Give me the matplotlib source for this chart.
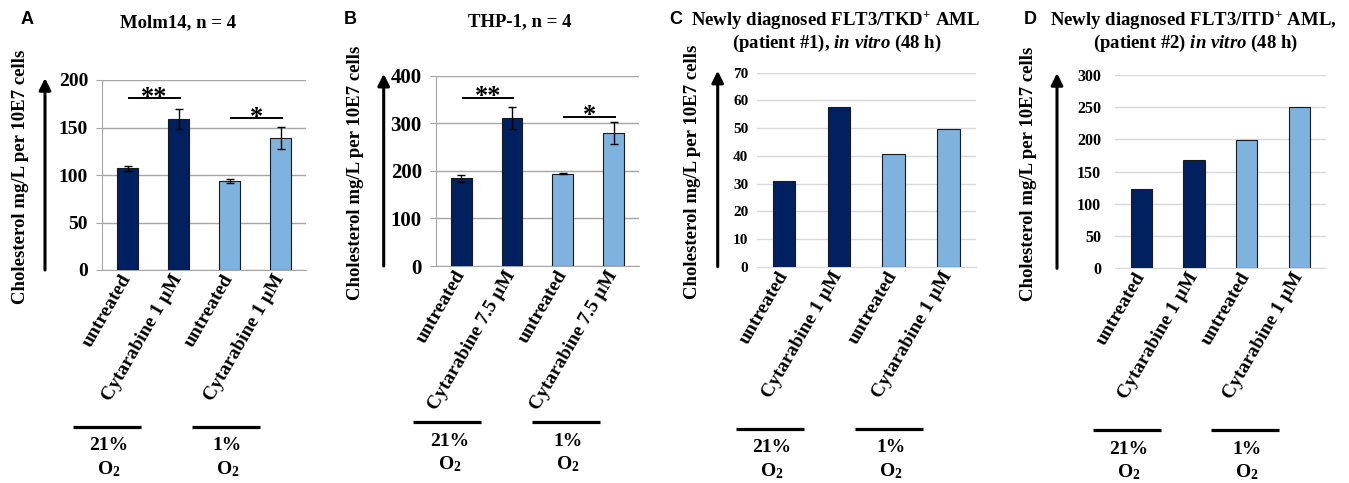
import matplotlib
matplotlib.use("Agg")
import matplotlib.pyplot as plt
from matplotlib.transforms import ScaledTranslation

plt.rcParams['font.family'] = ['Liberation Serif', 'DejaVu Serif']
plt.rcParams['font.weight'] = 'bold'
plt.rcParams['mathtext.fontset'] = 'custom'
plt.rcParams['mathtext.rm'] = 'Liberation Serif:bold'
plt.rcParams['mathtext.it'] = 'Liberation Serif:bold:italic'
plt.rcParams['mathtext.bf'] = 'Liberation Serif:bold'
plt.rcParams['mathtext.default'] = 'rm'

DARK = '#002060'
LIGHT = '#7DB3DE'

# данные по панелям
labels_a = ['untreated', 'Cytarabine 1 µM', 'untreated', 'Cytarabine 1 µM']
labels_b = ['untreated', 'Cytarabine 7.5 µM', 'untreated', 'Cytarabine 7.5 µM']
labels_c = labels_a
labels_d = labels_a

vals_a = [107, 159, 94, 139]
err_a = [3, 11, 2, 12]
vals_b = [184, 312, 194, 279]
err_b = [8, 23, 1, 23]
vals_c = [31.0, 57.5, 40.8, 49.8]
vals_d = [123, 168, 199, 251]

sig_a = [(0, 1, 181, '**'), (2, 3, 160, '*')]
sig_b = [(0, 1, 354, '**'), (2, 3, 314, '*')]

groups = ['21%', '1%']
bar_colors = [DARK, DARK, LIGHT, LIGHT]
ylabel = 'Cholesterol mg/L per 10E7 cells'

W, H = 1349, 483
fig = plt.figure(figsize=(W / 100, H / 100), dpi=100)


def px_axes(left, right, top, bottom):
    return fig.add_axes([left / W, 1 - bottom / H, (right - left) / W, (bottom - top) / H])


# box = (left, right, top, bottom) in pixels; остальные смещения тоже в пикселях
panels = [
    dict(box=(102, 306, 80, 270), vals=vals_a, err=err_a, ylim=200, step=50, labels=labels_a,
         sig=sig_a, tsize=14, grid='#A6A6A6', spine=True, arrow=-57, ylab=-73, line=157,
         gx=(5, 123.5), pad=6),
    dict(box=(435.7, 639, 75.7, 266), vals=vals_b, err=err_b, ylim=400, step=100, labels=labels_b,
         sig=sig_b, tsize=15, grid='#A6A6A6', spine=True, arrow=-52, ylab=-72, line=156,
         gx=(11.7, 130.3), pad=6),
    dict(box=(756.7, 975.7, 72.7, 266.7), vals=vals_c, err=None, ylim=70, step=10, labels=labels_c,
         sig=[], tsize=11, grid='#D9D9D9', spine=False, arrow=-39, ylab=-56, line=162,
         gx=(13.3, 132.3), pad=6),
    dict(box=(1115, 1325.7, 75, 268.3), vals=vals_d, err=None, ylim=300, step=50, labels=labels_d,
         sig=[], tsize=11.5, grid='#D9D9D9', spine=False, arrow=-58, ylab=-78, line=162,
         gx=(11.7, 130), pad=10),
]

for p in panels:
    l, r, t, b = p['box']
    ax = px_axes(l, r, t, b)
    n = len(p['vals'])
    xs = list(range(n))
    ax.bar(xs, p['vals'], width=0.41, color=bar_colors, edgecolor='#1a1a1a', linewidth=0.8, zorder=3)
    if p['err'] is not None:
        ax.errorbar(xs, p['vals'], yerr=p['err'], fmt='none', ecolor='black',
                    elinewidth=1, capsize=3, capthick=1, zorder=4)
    ax.set_xlim(-0.5, n - 0.5)
    ax.set_ylim(0, p['ylim'])
    ax.set_yticks(range(0, p['ylim'] + 1, p['step']))
    ax.yaxis.grid(True, color=p['grid'], linewidth=1)
    ax.set_axisbelow(True)
    for s in ['top', 'right']:
        ax.spines[s].set_visible(False)
    ax.spines['bottom'].set_color(p['grid'])
    ax.spines['left'].set_color(p['grid'])
    ax.spines['left'].set_visible(p['spine'])
    ax.tick_params(axis='y', length=4 if p['spine'] else 0, color=p['grid'],
                   labelsize=p['tsize'], pad=p['pad'])
    ax.tick_params(axis='x', length=0, pad=4)
    ax.set_xticks(xs)
    ax.set_xticklabels(p['labels'], rotation=60, ha='right', va='center',
                       rotation_mode='anchor', fontsize=14)
    for lbl in ax.get_yticklabels() + ax.get_xticklabels():
        lbl.set_fontweight('bold')

    wpx = r - l
    ax.set_ylabel(ylabel, fontsize=13.5, fontweight='bold')
    ax.yaxis.set_label_coords(p['ylab'] / wpx, 0.49)

    # стрелка вдоль оси
    ax.annotate('', xy=(p['arrow'] / wpx, 1.01), xytext=(p['arrow'] / wpx, 0.0),
                xycoords='axes fraction',
                arrowprops=dict(arrowstyle='-|>,head_width=0.35,head_length=0.7',
                                color='black', lw=2.2, shrinkA=0, shrinkB=0))

    # значимость
    for i, j, y, star in p['sig']:
        ax.plot([i + 0.03, j + 0.03], [y, y], color='black', lw=1.4, clip_on=False, zorder=5)
        ax.annotate(star, xy=((i + j) / 2 + 0.03, y), xytext=(0, -4), textcoords='offset points',
                    ha='center', va='baseline', fontsize=19, annotation_clip=False)

    # группы O2
    trans = ax.transAxes + ScaledTranslation(0, -p['line'] / 100, fig.dpi_scale_trans)
    for g, cx in zip(groups, p['gx']):
        c = cx / wpx
        half = 34 / wpx
        ax.plot([c - half, c + half], [0, 0], color='black', lw=2.3, transform=trans,
                clip_on=False, solid_capstyle='butt')
        ax.annotate(g, xy=(c + 2 / wpx, 0), xycoords='axes fraction',
                    xytext=(0, -(p['line'] + 19) * 0.72), textcoords='offset points',
                    ha='center', va='center', fontsize=14, fontweight='bold',
                    annotation_clip=False)
        ax.annotate(r'O$_2$', xy=(c + 2 / wpx, 0), xycoords='axes fraction',
                    xytext=(0, -(p['line'] + 42) * 0.72), textcoords='offset points',
                    ha='center', va='center', fontsize=14, fontweight='bold',
                    annotation_clip=False)


def ftext(x, y, s, **kw):
    fig.text(x / W, 1 - y / H, s, ha='center', va='center', **kw)


ftext(27, 20, 'A', fontsize=13, fontweight='bold', family='Liberation Sans')
ftext(350, 20, 'B', fontsize=13, fontweight='bold', family='Liberation Sans')
ftext(676, 20, 'C', fontsize=13, fontweight='bold', family='Liberation Sans')
ftext(1030, 20, 'D', fontsize=13, fontweight='bold', family='Liberation Sans')

ftext(178, 23, 'Molm14, n = 4', fontsize=13.5, fontweight='bold')
ftext(520, 22, 'THP-1, n = 4', fontsize=13.5, fontweight='bold')
ftext(835, 20, r'Newly diagnosed FLT3/TKD$^{+}$ AML', fontsize=13.5, fontweight='bold')
ftext(837, 43, r'(patient #1), $\mathit{in\ vitro}$ (48 h)', fontsize=13.5, fontweight='bold')
ftext(1193, 20, r'Newly diagnosed FLT3/ITD$^{+}$ AML,', fontsize=13.5, fontweight='bold')
ftext(1195, 43, r'(patient #2) $\mathit{in\ vitro}$ (48 h)', fontsize=13.5, fontweight='bold')

fig.savefig('out.png', dpi=100)
